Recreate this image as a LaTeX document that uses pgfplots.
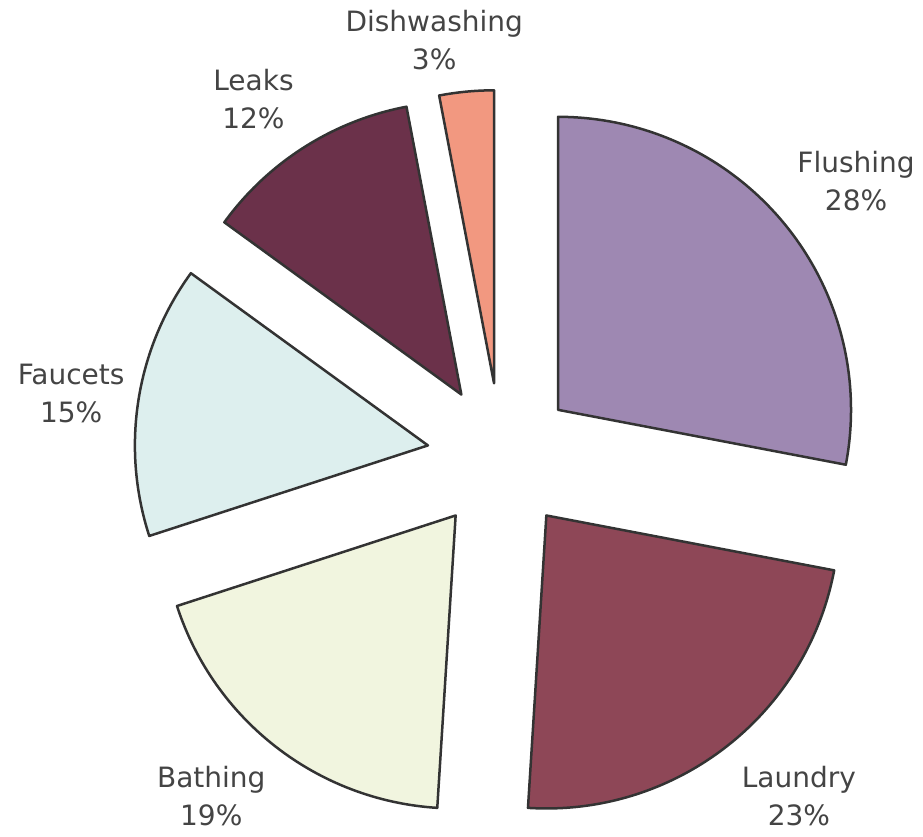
\documentclass[border=0pt]{standalone}
\usepackage{pgfplots}
\usepackage{pgfplotstable}
\pgfplotsset{compat=1.18}
\usepackage{fontspec}
\setmainfont{DejaVu Sans}
\definecolor{cflush}{HTML}{9E88B2}
\definecolor{claundry}{HTML}{8E4757}
\definecolor{cbath}{HTML}{F1F5DF}
\definecolor{cfaucet}{HTML}{DDEFEE}
\definecolor{cleak}{HTML}{6B314A}
\definecolor{cdish}{HTML}{F29880}
\definecolor{cedge}{HTML}{333333}
\definecolor{ctext}{HTML}{444444}
\pgfplotstableread[col sep=comma]{
label,value,color,dx,dy
Flushing,28,cflush,26,4
Laundry,23,claundry,43,-10
Bathing,19,cbath,-34,-10
Faucets,15,cfaucet,-2,-4
Leaks,12,cleak,-25,8
Dishwashing,3,cdish,-28,10
}\piedata
\begin{document}
\begin{tikzpicture}
\begin{axis}[
  hide axis, scale only axis, clip=false,
  width=923bp, height=837bp,
  xmin=-501, xmax=422, ymin=-380, ymax=457,
]
\coordinate (bl) at (rel axis cs:0,0);
\coordinate (tr) at (rel axis cs:1,1);
\gdef\cum{0}
\pgfplotsinvokeforeach{0,...,5}{
  \pgfplotstablegetelem{#1}{value}\of\piedata \let\v=\pgfplotsretval
  \pgfplotstablegetelem{#1}{color}\of\piedata \let\c=\pgfplotsretval
  \pgfplotstablegetelem{#1}{label}\of\piedata \let\l=\pgfplotsretval
  \pgfplotstablegetelem{#1}{dx}\of\piedata \let\dx=\pgfplotsretval
  \pgfplotstablegetelem{#1}{dy}\of\piedata \let\dy=\pgfplotsretval
  \pgfmathsetmacro\sa{90-3.6*\cum}
  \pgfmathsetmacro\ea{90-3.6*(\cum+\v)}
  \pgfmathsetmacro\ma{(\sa+\ea)/2}
  \pgfmathsetmacro\ex{74*cos(\ma)}
  \pgfmathsetmacro\ey{74*sin(\ma)}
  \pgfmathsetmacro\lx{(74+293+12)*cos(\ma)+\dx}
  \pgfmathsetmacro\ly{(74+293+12)*sin(\ma)+\dy}
  \pgfmathsetmacro\la{\ma+180}
  \edef\temp{\noexpand\draw[fill=\c, draw=cedge, line width=2.5bp, line join=round]
     (axis cs:\ex,\ey) -- ++(\sa:293bp) arc[start angle=\sa, end angle=\ea, radius=293bp] -- cycle;
   \noexpand\node[anchor=\la, align=center, text=ctext, font=\noexpand\fontsize{28bp}{38bp}\noexpand\selectfont, inner sep=0pt]
     at (axis cs:\lx,\ly) {\l\noexpand\\\v\noexpand\%};}
  \temp
  \pgfmathsetmacro\tmp{\cum+\v}
  \xdef\cum{\tmp}
}
\end{axis}
\pgfresetboundingbox
\path[use as bounding box] (bl) rectangle (tr);
\end{tikzpicture}
\end{document}
